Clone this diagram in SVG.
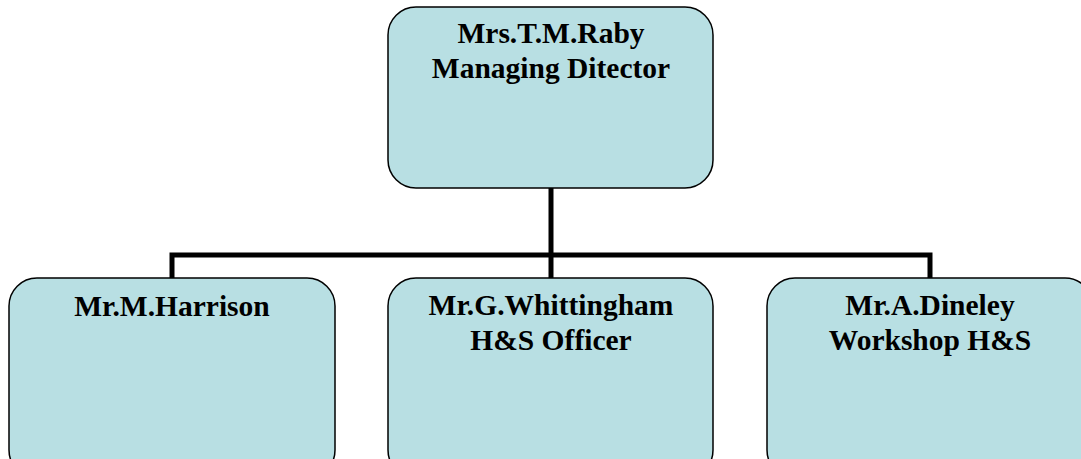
<svg xmlns="http://www.w3.org/2000/svg" width="1081" height="459" viewBox="0 0 1081 459">
<style>
.box{fill:#B8DFE3;stroke:#000;stroke-width:1.5}
.t{font-family:"Liberation Serif","Times New Roman",serif;font-weight:bold;font-size:29.5px;fill:#000;text-anchor:middle}
.c{fill:none;stroke:#000;stroke-width:5}
</style>
<rect width="1081" height="459" fill="#fff"/>
<g id="connectors">
<path class="c" d="M551 188 V255"/>
<path class="c" d="M172 278 V255 H930 V278"/>
<path class="c" d="M551 255 V278"/>
</g>
<g id="raby">
<rect class="box" x="388" y="7" width="325" height="181" rx="28"/>
<text class="t" x="551" y="43">Mrs.T.M.Raby</text>
<text class="t" x="551" y="78">Managing Ditector</text>
</g>
<g id="harrison">
<rect class="box" x="9" y="278" width="326" height="200" rx="28"/>
<text class="t" x="172" y="316">Mr.M.Harrison</text>
</g>
<g id="whittingham">
<rect class="box" x="388" y="278" width="325" height="200" rx="28"/>
<text class="t" x="551" y="315">Mr.G.Whittingham</text>
<text class="t" x="551" y="350">H&amp;S Officer</text>
</g>
<g id="dineley">
<rect class="box" x="767" y="278" width="326" height="200" rx="28"/>
<text class="t" x="930" y="315">Mr.A.Dineley</text>
<text class="t" x="930" y="350">Workshop H&amp;S</text>
</g>
</svg>
